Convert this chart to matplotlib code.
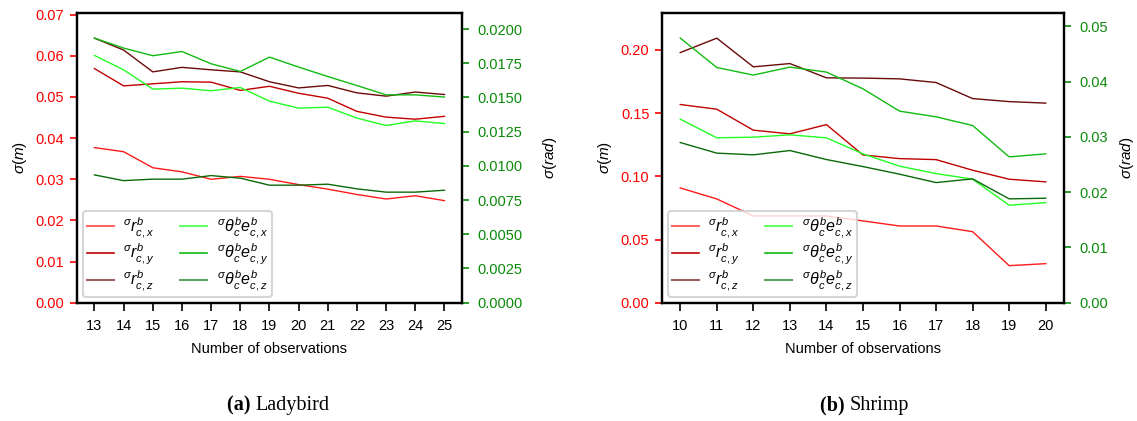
import matplotlib
matplotlib.use("Agg")
import matplotlib.pyplot as plt
from matplotlib.lines import Line2D

plt.rcParams['font.family'] = ['Liberation Sans', 'DejaVu Sans']
plt.rcParams['mathtext.fontset'] = 'custom'
plt.rcParams['mathtext.rm'] = 'Liberation Sans'
plt.rcParams['mathtext.it'] = 'Liberation Sans:italic'
plt.rcParams['mathtext.bf'] = 'Liberation Sans:bold'

# ---- Ladybird data ----
lb_obs = [13, 14, 15, 16, 17, 18, 19, 20, 21, 22, 23, 24, 25]
lb_rx = [0.0377, 0.0367, 0.0328, 0.0318, 0.0300, 0.0307, 0.0300, 0.0287, 0.0276, 0.0263, 0.0252, 0.0260, 0.0248]
lb_ry = [0.0569, 0.0527, 0.0532, 0.0537, 0.0536, 0.0516, 0.0526, 0.0509, 0.0497, 0.0465, 0.0451, 0.0446, 0.0453]
lb_rz = [0.0643, 0.0614, 0.0561, 0.0572, 0.0566, 0.0561, 0.0537, 0.0522, 0.0528, 0.0510, 0.0502, 0.0512, 0.0506]
lb_tx = [0.01807, 0.01702, 0.01561, 0.01568, 0.01549, 0.01573, 0.01473, 0.01422, 0.01429, 0.01349, 0.01295, 0.01329, 0.01309]
lb_ty = [0.01934, 0.01861, 0.01805, 0.01836, 0.01746, 0.01690, 0.01795, 0.01722, 0.01653, 0.01587, 0.01519, 0.01519, 0.01503]
lb_tz = [0.00934, 0.00892, 0.00903, 0.00903, 0.00929, 0.00910, 0.00859, 0.00859, 0.00866, 0.00832, 0.00808, 0.00808, 0.00822]

# ---- Shrimp data ----
sh_obs = [10, 11, 12, 13, 14, 15, 16, 17, 18, 19, 20]
sh_rx = [0.0908, 0.0821, 0.0686, 0.0686, 0.0686, 0.0647, 0.0607, 0.0607, 0.0562, 0.0293, 0.0309]
sh_ry = [0.1568, 0.1531, 0.1365, 0.1336, 0.1409, 0.1169, 0.1140, 0.1132, 0.1048, 0.0977, 0.0956]
sh_rz = [0.1979, 0.2093, 0.1866, 0.1892, 0.1779, 0.1777, 0.1771, 0.1742, 0.1615, 0.1591, 0.1579]
sh_tx = [0.03322, 0.02984, 0.02996, 0.03038, 0.02984, 0.02694, 0.02471, 0.02337, 0.02236, 0.01764, 0.01812]
sh_ty = [0.04790, 0.04257, 0.04120, 0.04264, 0.04174, 0.03871, 0.03467, 0.03364, 0.03207, 0.02639, 0.02694]
sh_tz = [0.02899, 0.02707, 0.02676, 0.02754, 0.02591, 0.02464, 0.02326, 0.02174, 0.02241, 0.01879, 0.01891]

labels_r = [r'$^{\sigma}r^{b}_{c,x}$', r'$^{\sigma}r^{b}_{c,y}$', r'$^{\sigma}r^{b}_{c,z}$']
labels_t = [r'$^{\sigma}\theta^{b}_{c}e^{b}_{c,x}$', r'$^{\sigma}\theta^{b}_{c}e^{b}_{c,y}$',
            r'$^{\sigma}\theta^{b}_{c}e^{b}_{c,z}$']
captions = [('(a)', 'Ladybird'), ('(b)', 'Shrimp')]

col_r = ['#ff1a1a', '#c00000', '#6a0a0a']
col_t = ['#22ff22', '#11bb11', '#0a6a0a']
leg_r = ['#ff6666', '#c00000', '#a06060']
leg_t = ['#66ff66', '#11bb11', '#60a060']

RED = '#ff0000'
GREEN = '#0a8a0a'

fig = plt.figure(figsize=(11.37, 4.21), dpi=100)

panels = [
    dict(obs=lb_obs, r=[lb_rx, lb_ry, lb_rz], t=[lb_tx, lb_ty, lb_tz],
         pos=[0.0677, 0.281, 0.3386, 0.689], ylim=(0, 0.0705), ylim2=(0, 0.0212),
         yt=[0, 0.01, 0.02, 0.03, 0.04, 0.05, 0.06, 0.07], yfmt='%.2f',
         yt2=[0, 0.0025, 0.005, 0.0075, 0.01, 0.0125, 0.015, 0.0175, 0.02], yfmt2='%.4f',
         pad2=13),
    dict(obs=sh_obs, r=[sh_rx, sh_ry, sh_rz], t=[sh_tx, sh_ty, sh_tz],
         pos=[0.5822, 0.281, 0.3536, 0.689], ylim=(0, 0.2295), ylim2=(0, 0.0525),
         yt=[0, 0.05, 0.10, 0.15, 0.20], yfmt='%.2f',
         yt2=[0, 0.01, 0.02, 0.03, 0.04, 0.05], yfmt2='%.2f',
         pad2=7),
]

for i, p in enumerate(panels):
    ax = fig.add_axes(p['pos'])
    ax2 = ax.twinx()
    for k in range(3):
        ax.plot(p['obs'], p['r'][k], color=col_r[k], lw=1.0)
        ax2.plot(p['obs'], p['t'][k], color=col_t[k], lw=1.0)
    ax.set_xlim(p['obs'][0] - 0.05 * (p['obs'][-1] - p['obs'][0]),
                p['obs'][-1] + 0.05 * (p['obs'][-1] - p['obs'][0]))
    ax.set_xticks(p['obs'])
    ax.set_ylim(*p['ylim'])
    ax2.set_ylim(*p['ylim2'])
    ax.set_yticks(p['yt'])
    ax.set_yticklabels([p['yfmt'] % v for v in p['yt']])
    ax2.set_yticks(p['yt2'])
    ax2.set_yticklabels([p['yfmt2'] % v for v in p['yt2']])
    ax.tick_params(axis='x', colors='black', labelsize=10.5, length=6, width=1.2,
                   direction='out', pad=6)
    ax.tick_params(axis='y', colors=RED, labelsize=10.5, length=5, width=1.2,
                   direction='out', pad=4)
    ax2.tick_params(axis='y', colors=GREEN, labelsize=10.5, length=5, width=1.2,
                    direction='out', pad=6)
    for a in (ax, ax2):
        for s in a.spines.values():
            s.set_linewidth(1.6)
            s.set_color('black')
    ax.set_xlabel('Number of observations', fontsize=10.5, labelpad=6)
    ax.set_ylabel(r'$\sigma(m)$', fontsize=11, labelpad=5)
    ax2.set_ylabel(r'$\sigma(rad)$', fontsize=11, labelpad=p['pad2'])

    handles = []
    labs = []
    for k in range(3):
        handles.append(Line2D([], [], color=leg_r[k], lw=1.5 if k != 1 else 1.2))
        labs.append(labels_r[k])
    for k in range(3):
        handles.append(Line2D([], [], color=leg_t[k], lw=1.5 if k != 1 else 1.2))
        labs.append(labels_t[k])
    leg = ax.legend(handles, labs, loc='lower left', ncol=2, fontsize=11.5,
                    frameon=True, fancybox=True, framealpha=0.8, edgecolor='#cccccc',
                    handlelength=1.7, handletextpad=0.6, columnspacing=1.6,
                    labelspacing=0.1, borderpad=0.25, borderaxespad=0.35)
    leg.get_frame().set_linewidth(1.5)

    cx = p['pos'][0] + p['pos'][2] / 2
    b, name = captions[i]
    fig.text(cx - 0.012, 0.036, b + ' ', ha='right', va='center', fontsize=14.5,
             family='Liberation Serif', weight='bold')
    fig.text(cx - 0.012, 0.036, name, ha='left', va='center', fontsize=14.5,
             family='Liberation Serif')

fig.savefig('out.png', dpi=100)
